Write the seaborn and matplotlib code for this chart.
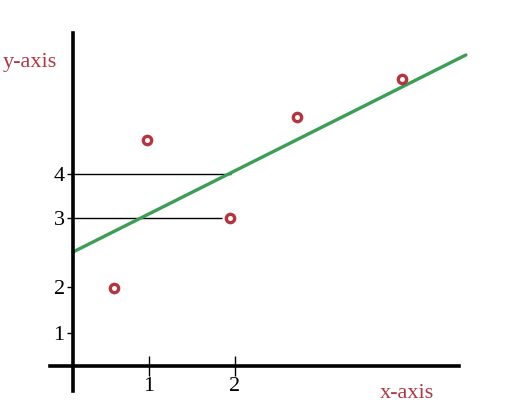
import matplotlib
matplotlib.use("Agg")
import matplotlib.pyplot as plt
import seaborn as sns
import pandas as pd

# data (in chart units)
pts_x = [0.51, 0.91, 1.94, 2.77, 4.06]
pts_y = [1.625, 4.71, 3.08, 5.19, 5.98]
line_x = [0.0, 4.85]
line_y = [2.375, 6.48]
ref_y = [4.0, 3.08]
ref_xend = [1.95, 1.84]
xtick_pos = [0.94, 2.0]
xtick_labels = ["1", "2"]
ytick_pos = [0.69, 1.65, 3.08, 4.0]
ytick_labels = ["1", "2", "3", "4"]

sns.set_style("white")
plt.rcParams['font.family'] = ['Liberation Serif', 'DejaVu Serif']

fig = plt.figure(figsize=(5.08, 4.19), dpi=100)
ax = fig.add_axes([0, 0, 1, 1])

red = "#b3363f"
green = "#3a9e55"

ax.hlines(ref_y, 0, ref_xend, color="black", lw=1.0, zorder=1)
sns.lineplot(x=line_x, y=line_y, ax=ax, color=green, lw=2.4, zorder=2)
sns.scatterplot(x=pts_x, y=pts_y, ax=ax, marker="o", s=36, facecolor="white",
                edgecolor=red, linewidth=2.4, zorder=3)

ax.set_xlim(-0.901, 5.370)
ax.set_ylim(-1.104, 7.625)

for s in ["top", "right"]:
    ax.spines[s].set_visible(False)
ax.spines["left"].set_position(("data", 0))
ax.spines["bottom"].set_position(("data", 0))
ax.spines["left"].set_bounds(-0.52, 6.94)
ax.spines["bottom"].set_bounds(-0.284, 4.77)
for s in ["left", "bottom"]:
    ax.spines[s].set_linewidth(2.6)
    ax.spines[s].set_color("black")

ax.set_xticks(xtick_pos)
ax.set_xticklabels(xtick_labels, fontsize=16)
ax.set_yticks(ytick_pos)
ax.set_yticklabels(ytick_labels, fontsize=16)
ax.tick_params(axis="x", direction="inout", length=14, width=1, pad=1, colors="black")
ax.tick_params(axis="y", direction="out", length=4, width=1, pad=2, colors="black")
ax.tick_params(axis="both", bottom=True, left=True)

fig.text(3 / 508, 1 - 63 / 419, "y-axis", color=red, fontsize=16, va="center", ha="left")
fig.text(407 / 508, 1 - 393 / 419, "x-axis", color=red, fontsize=16, va="center", ha="center")

fig.savefig("out.png", dpi=100)
